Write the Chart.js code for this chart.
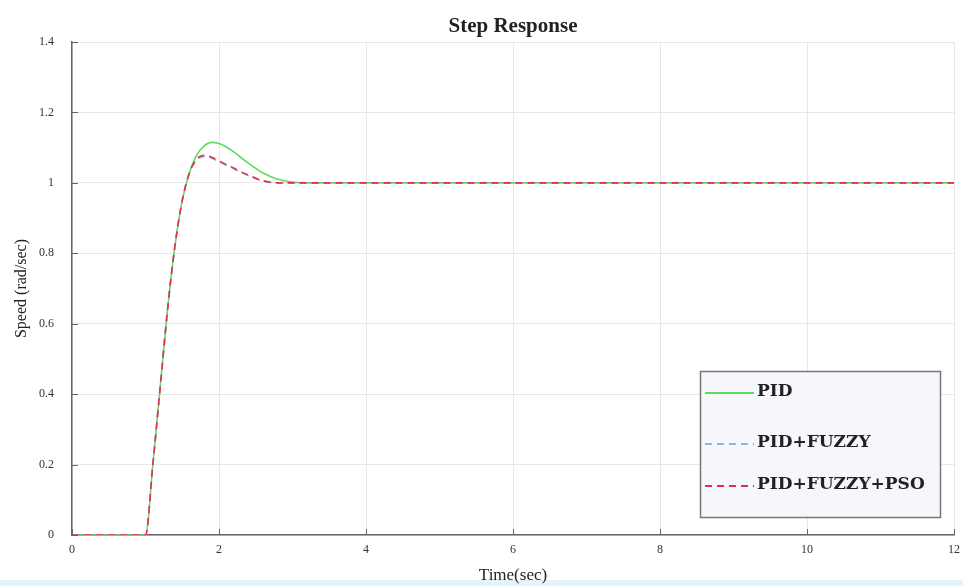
<!DOCTYPE html>
<html>
<head>
<meta charset="utf-8">
<script src="https://cdn.jsdelivr.net/npm/chart.js@4.4.1/dist/chart.umd.min.js"></script>
<style>
  html, body { margin: 0; padding: 0; background: #fff; }
  #wrap { width: 963px; height: 586px; position: relative; }
</style>
</head>
<body>
<div id="wrap"><canvas id="chart" width="963" height="586"></canvas></div>
<script>
// Step response
const timeSec    = [0, 1, 1.1, 1.2, 1.3, 1.4, 1.5, 1.6, 1.7, 1.8, 1.9, 2.0, 2.1, 2.2, 2.4, 2.6, 2.8, 3.0, 3.2, 4, 6, 8, 10, 12];
const pidSpeed   = [0, 0, 0.2, 0.42, 0.64, 0.82, 0.95, 1.03, 1.08, 1.105, 1.115, 1.112, 1.102, 1.088, 1.056, 1.028, 1.01, 1.002, 1.0, 1, 1, 1, 1, 1];
const fuzzySpeed = [0, 0, 0.2, 0.42, 0.64, 0.82, 0.95, 1.03, 1.065, 1.075, 1.07, 1.06, 1.05, 1.04, 1.02, 1.005, 1.0, 1.0, 1.0, 1, 1, 1, 1, 1];
const psoSpeed   = [0, 0, 0.2, 0.42, 0.64, 0.82, 0.95, 1.03, 1.068, 1.078, 1.073, 1.062, 1.052, 1.042, 1.022, 1.006, 1.0, 1.0, 1.0, 1, 1, 1, 1, 1];
const seriesNames = ['PID', 'PID+FUZZY', 'PID+FUZZY+PSO'];

const serif = '"Liberation Serif", "DejaVu Serif", serif';

function points(ys) {
  return timeSec.map((t, i) => ({ x: t, y: ys[i] }));
}

// title, inward ticks and the boxed legend inside the plot
const extras = {
  id: 'extras',
  beforeDraw(chart) {
    const ctx = chart.ctx;
    ctx.save();
    ctx.fillStyle = '#e3f5fb';
    ctx.fillRect(0, 580, chart.width, 6);
    ctx.restore();
  },
  afterDraw(chart) {
    const ctx = chart.ctx;
    const area = chart.chartArea;
    const xs = chart.scales.x, ys = chart.scales.y;
    ctx.save();

    ctx.fillStyle = '#222';
    ctx.font = '600 21px ' + serif;
    ctx.textAlign = 'center';
    ctx.textBaseline = 'middle';
    ctx.fillText('Step Response', (area.left + area.right) / 2, 27);

    ctx.strokeStyle = '#666';
    ctx.lineWidth = 1;
    ctx.beginPath();
    xs.ticks.forEach(tk => {
      const px = Math.round(xs.getPixelForValue(tk.value)) + 0.5;
      ctx.moveTo(px, area.bottom);
      ctx.lineTo(px, area.bottom - 6);
    });
    ys.ticks.forEach(tk => {
      const py = Math.round(ys.getPixelForValue(tk.value)) + 0.5;
      ctx.moveTo(area.left, py);
      ctx.lineTo(area.left + 6, py);
    });
    ctx.stroke();

    // legend box
    const bx = 700, by = area.top + 329, bw = 240, bh = 146;
    ctx.fillStyle = '#f5f7fc';
    ctx.fillRect(bx, by, bw, bh);
    ctx.strokeStyle = '#777';
    ctx.lineWidth = 1.5;
    ctx.strokeRect(bx + 0.5, by + 0.5, bw, bh);
    const rows = [21, 72, 114];
    chart.data.datasets.forEach((ds, i) => {
      const ry = by + rows[i];
      ctx.strokeStyle = ds.borderColor;
      ctx.lineWidth = 2;
      ctx.setLineDash(ds.borderDash || []);
      ctx.beginPath();
      ctx.moveTo(bx + 5, ry + 1);
      ctx.lineTo(bx + 54, ry + 1);
      ctx.stroke();
      ctx.setLineDash([]);
      ctx.fillStyle = '#222';
      ctx.font = 'bold 17px "DejaVu Serif", serif';
      ctx.textAlign = 'left';
      ctx.textBaseline = 'middle';
      ctx.fillText(ds.label, bx + 57, ry);
    });
    ctx.restore();
  }
};

new Chart(document.getElementById('chart'), {
  type: 'line',
  data: {
    datasets: [
      { label: seriesNames[0], data: points(pidSpeed), borderColor: '#5fdc5f', borderWidth: 1.6, order: 3 },
      { label: seriesNames[1], data: points(fuzzySpeed), borderColor: '#8fb6e4', borderWidth: 1.6, borderDash: [7, 5], order: 2 },
      { label: seriesNames[2], data: points(psoSpeed), borderColor: '#e0304c', borderWidth: 1.6, borderDash: [7, 5], order: 1 }
    ]
  },
  options: {
    responsive: false,
    animation: false,
    layout: { padding: { top: 42, right: 9, left: 0, bottom: 0 } },
    elements: {
      point: { radius: 0 },
      line: { cubicInterpolationMode: 'monotone', fill: false }
    },
    plugins: {
      legend: { display: false },
      title: { display: false },
      tooltip: { enabled: false }
    },
    scales: {
      x: {
        type: 'linear',
        min: 0,
        max: 12,
        ticks: { stepSize: 2, color: '#333', font: { family: serif, size: 12 }, padding: 8, maxRotation: 0 },
        grid: { color: '#e8e8e8', drawTicks: false },
        border: { display: true, color: '#666', width: 1.5 },
        title: { display: true, text: 'Time(sec)', color: '#222', font: { family: serif, size: 17 }, padding: { top: 2, bottom: 0 } },
        afterFit(scale) { scale.height = 51; scale.paddingRight = 0; }
      },
      y: {
        min: 0,
        max: 1.4,
        ticks: {
          stepSize: 0.2, color: '#333', font: { family: serif, size: 12 }, padding: 18,
          callback: v => String(+v.toFixed(1))
        },
        grid: { color: '#e8e8e8', drawTicks: false },
        border: { display: true, color: '#666', width: 1.5 },
        title: { display: true, text: 'Speed (rad/sec)', color: '#222', font: { family: serif, size: 16 }, padding: { top: 12, bottom: 0 } },
        afterFit(scale) { scale.width = 72; }
      }
    }
  },
  plugins: [extras]
});
</script>
</body>
</html>
